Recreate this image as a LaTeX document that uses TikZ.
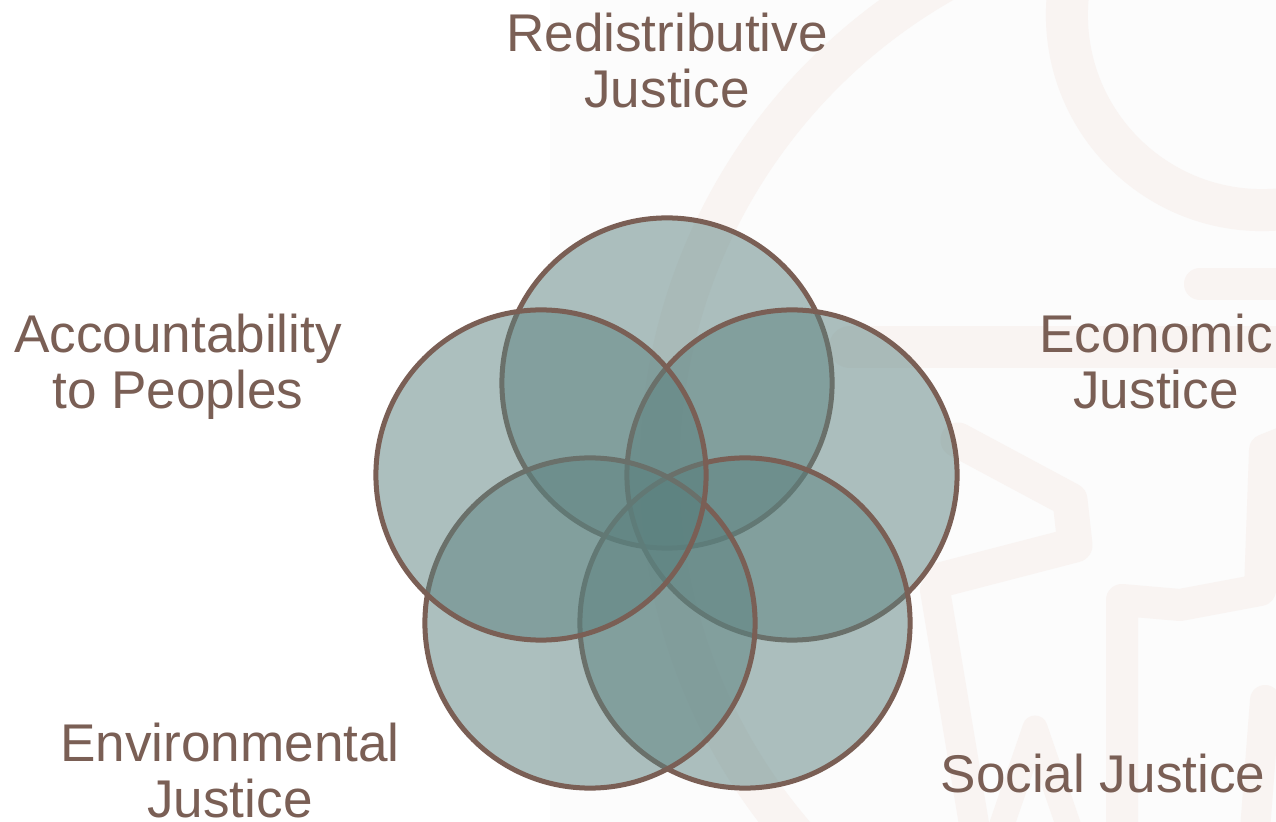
\documentclass[tikz,border=0pt]{standalone}
\usepackage{fontspec}
\setmainfont{Liberation Sans}
\usepackage{tikz}
\usetikzlibrary{positioning}
\definecolor{labelbrown}{HTML}{7A5F55}
\definecolor{ringteal}{HTML}{5B817F}
\definecolor{wmark}{HTML}{F9F4F2}
\definecolor{panel}{HTML}{FCFCFC}

\begin{document}
\begin{tikzpicture}[
  x=0.01cm, y=-0.01cm,
  ring/.style={circle, draw=labelbrown, line width=0.05cm, fill=ringteal, fill opacity=0.5, minimum size=3.3cm, inner sep=0pt},
  lbl/.style={font=\fontsize{15.1pt}{15.9pt}\selectfont, text=labelbrown, align=center, inner sep=0pt, anchor=north},
  wm/.style={draw=wmark, line width=0.42cm, line cap=round, line join=round},
]
\useasboundingbox (0,0) rectangle (1276,822);

% Background
\fill[white] (0,0) rectangle (550,822);
\fill[panel] (550,0) rectangle (1276,822);

% Watermark
\begin{scope}
  \clip (550,0) rectangle (1276,822);
  \draw[wm, line width=0.4cm] (1220,470) circle[radius=5.6cm];
  \draw[wm] (1262,15) circle[radius=1.95cm];
  \draw[wm, line width=0.32cm] (1200,284) -- (1290,284);
  \draw[wm] (850,347) -- (1290,347);
  \draw[wm, line width=0.35cm] (958,440) -- (1070,500) -- (1075,545) -- (940,580);
  \draw[wm, line width=0.32cm] (1122,830) -- (1122,600) -- (1180,605) -- (1260,590) -- (1265,450) -- (1290,440);
  \draw[wm, line width=0.3cm] (935,590) -- (975,830);
  \draw[wm, line width=0.25cm] (1000,830) -- (1035,728) -- (1070,830);
  \draw[wm, line width=0.3cm] (1265,700) -- (1255,830);
\end{scope}

% Circles, drawn clockwise from the top
\foreach \name/\cx/\cy in {redist/667/383, econ/792/475, social/745/623, environ/590/623, account/541/475} {
  \node[ring] (\name) at (\cx,\cy) {};
}

% Labels
\node[lbl] (redist-lbl) at (667,12) {Redistributive\\Justice};
\node[lbl] (account-lbl) at (178,313) {Accountability\\to Peoples};
\node[lbl] (econ-lbl) at (1156,313) {Economic\\Justice};
\node[lbl] (environ-lbl) at (230,722) {Environmental\\Justice};
\node[lbl] (social-lbl) at (1103,753) {Social Justice};

\end{tikzpicture}
\end{document}
